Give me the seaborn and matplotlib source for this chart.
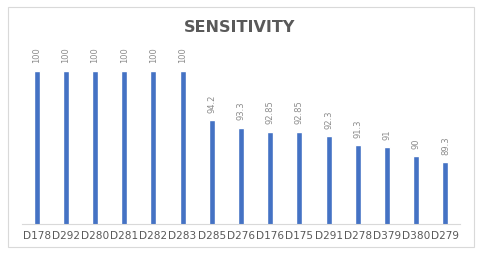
import pandas as pd
import seaborn as sns
import matplotlib.pyplot as plt
from matplotlib.patches import Rectangle

# data
samples = ["D178", "D292", "D280", "D281", "D282", "D283", "D285", "D276",
           "D176", "D175", "D291", "D278", "D379", "D380", "D279"]
sensitivity = [100, 100, 100, 100, 100, 100, 94.2, 93.3,
               92.85, 92.85, 92.3, 91.3, 91, 90, 89.3]
value_labels = ["100", "100", "100", "100", "100", "100", "94.2", "93.3",
                "92.85", "92.85", "92.3", "91.3", "91", "90", "89.3"]

df = pd.DataFrame({"sample": samples, "sensitivity": sensitivity})

sns.set_style("white")
fig = plt.figure(figsize=(4.8, 2.54), dpi=100)
ax = fig.add_axes([22/480, 30/254, 438/480, 184/254])

sns.barplot(data=df, x="sample", y="sensitivity", color="#4472C4",
            width=0.2, saturation=1, ax=ax)

ax.set_ylim(82, 103.6)
ax.set_xlim(-0.5, len(samples) - 0.5)

for i, (v, lab) in enumerate(zip(sensitivity, value_labels)):
    ax.text(i, v + 0.85, lab, rotation=90, ha="center", va="bottom",
            fontsize=6, color="#8c8c8c")

ax.set_xlabel("")
ax.set_ylabel("")
ax.set_yticks([])
ax.set_xticks(range(len(samples)))
ax.set_xticklabels(samples, fontsize=7.6, color="#595959")
ax.tick_params(axis="x", length=0, pad=5)
for s in ["top", "right", "left"]:
    ax.spines[s].set_visible(False)
ax.spines["bottom"].set_color("#d9d9d9")

fig.text(0.5, 1 - 28/254, "SENSITIVITY", ha="center", va="center",
         fontsize=11.5, fontweight="bold", color="#595959")

# chart border
fig.patches.append(Rectangle((8/480, 7/254), 466/480, 240/254,
                             transform=fig.transFigure, fill=False,
                             edgecolor="#d9d9d9", linewidth=0.8))

plt.savefig("out.png", dpi=100)
